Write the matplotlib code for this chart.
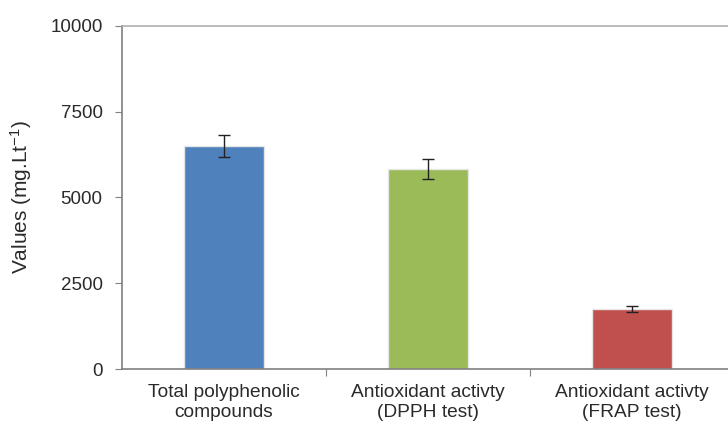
import matplotlib
matplotlib.use("Agg")
import matplotlib.pyplot as plt
import numpy as np

categories = ["Total polyphenolic\ncompounds", "Antioxidant activty\n(DPPH test)", "Antioxidant activty\n(FRAP test)"]
values = [6500, 5830, 1750]
errors = [320, 290, 100]
colors = ["#4F81BD", "#9BBB59", "#C0504D"]
yticks = [0, 2500, 5000, 7500, 10000]

plt.rcParams['font.family'] = ['Liberation Sans', 'DejaVu Sans']
plt.rcParams['mathtext.fontset'] = 'custom'
plt.rcParams['mathtext.rm'] = 'Liberation Sans'
plt.rcParams['mathtext.it'] = 'Liberation Sans'

fig = plt.figure(figsize=(7.28, 4.24), dpi=100)
L = 122 / 728
B = 1 - 369 / 424
H = (369 - 26) / 424
W = 612 / 728
ax = fig.add_axes([L, B, W, H])

x = np.arange(len(values))
ax.bar(x, values, width=0.39, color=colors, edgecolor="#e6e6e6", linewidth=1.0, zorder=2)
ax.errorbar(x, values, yerr=errors, fmt="none", ecolor="#222222", elinewidth=1.0, capsize=4, capthick=1.0, zorder=3)

ax.set_xlim(-0.5, 2.5)
ax.set_ylim(0, 10000)
ax.set_yticks(yticks)
ax.set_yticklabels([str(t) for t in yticks])
ax.set_xticks([0.5, 1.5])
ax.set_xticklabels([])
ax.set_xticks(x, minor=True)
ax.set_xticklabels(categories, minor=True)
ax.tick_params(axis="x", which="minor", length=0, pad=11, labelsize=13.8, colors="#2a2a2a")
ax.tick_params(axis="x", which="major", length=5, direction="out", color="#808080")
ax.tick_params(axis="y", length=5, direction="out", color="#808080", labelsize=13.5, labelcolor="#2a2a2a", pad=9)
for lbl in ax.get_xticklabels(minor=True):
    lbl.set_linespacing(1.22)

ax.spines["left"].set_color("#808080")
ax.spines["bottom"].set_color("#808080")
ax.spines["top"].set_color("#b0b0b0")
ax.spines["right"].set_visible(False)
for s in ax.spines.values():
    s.set_linewidth(1.2)

ax.set_ylabel("Values (mg.Lt$^{-1}$)", fontsize=15, color="#2a2a2a", labelpad=12)

fig.savefig("out.png", dpi=100)
